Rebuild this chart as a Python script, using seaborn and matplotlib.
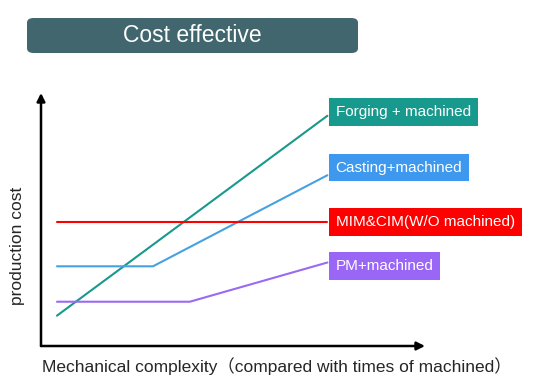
import matplotlib
matplotlib.use('Agg')
import matplotlib.pyplot as plt
from matplotlib.patches import FancyBboxPatch
import pandas as pd
import seaborn as sns

# production cost vs mechanical complexity (arbitrary units)
series = ['Forging + machined', 'Casting+machined', 'MIM&CIM(W/O machined)', 'PM+machined']
forging_x, forging_y = [0.5, 8.95], [1.2, 9.1]
casting_x, casting_y = [0.5, 3.5, 8.95], [3.15, 3.15, 6.75]
mim_x, mim_y = [0.5, 8.95], [4.9, 4.9]
pm_x, pm_y = [0.5, 4.65, 8.95], [1.75, 1.75, 3.3]

colors = ['#18998c', '#45a2e2', '#ff0000', '#9a6af2']
box_colors = ['#17998e', '#3d98ee', '#ff0000', '#9966f5']
label_offsets = [2.5, 5.5, 0, -2.5]  # points, label box vs line end

rows = []
for name, xs, ys in zip(series, [forging_x, casting_x, mim_x, pm_x],
                        [forging_y, casting_y, mim_y, pm_y]):
    for x, y in zip(xs, ys):
        rows.append({'series': name, 'complexity': x, 'cost': y})
df = pd.DataFrame(rows)

sns.set_style('white')
plt.rcParams['font.family'] = ['Liberation Sans', 'Noto Sans CJK SC', 'DejaVu Sans']

fig = plt.figure(figsize=(5.55, 3.90), dpi=100)
ax = fig.add_axes([41 / 555, 44 / 390, 384 / 555, 253 / 390])

sns.lineplot(data=df, x='complexity', y='cost', hue='series', hue_order=series,
             palette=colors, linewidth=1.5, legend=False, ax=ax)
ax.set_xlim(0, 12)
ax.set_ylim(0, 10)
for s in ax.spines.values():
    s.set_visible(False)
ax.set_xticks([])
ax.set_yticks([])
ax.set_xlabel('')
ax.set_ylabel('')

# axis arrows
ax.annotate('', xy=(1, 0), xytext=(0, 0), xycoords='axes fraction',
            arrowprops=dict(arrowstyle='-|>', color='black', lw=1.8,
                            mutation_scale=12, shrinkA=0, shrinkB=0))
ax.annotate('', xy=(0, 1), xytext=(0, 0), xycoords='axes fraction',
            arrowprops=dict(arrowstyle='-|>', color='black', lw=1.8,
                            mutation_scale=12, shrinkA=0, shrinkB=0))

# labels at line ends
for name, xs, ys, bc, off in zip(series, [forging_x, casting_x, mim_x, pm_x],
                                 [forging_y, casting_y, mim_y, pm_y],
                                 box_colors, label_offsets):
    ax.annotate(name, xy=(xs[-1], ys[-1]), xytext=(6, off), textcoords='offset points',
                ha='left', va='center', color='white', fontsize=11,
                bbox=dict(boxstyle='square,pad=0.45', fc=bc, ec='none'))

# title box
fig.patches.append(FancyBboxPatch((27 / 555, 1 - 53 / 390), 331 / 555, 35 / 390,
                                  boxstyle='round,pad=0,rounding_size=0.012',
                                  transform=fig.transFigure, fc='#41666e', ec='none'))
fig.text(192 / 555, 1 - 36 / 390, 'Cost effective', ha='center', va='center',
         color='white', fontsize=16.5)

fig.text(18 / 555, 1 - 246 / 390, 'production cost', rotation=90,
         ha='center', va='center', fontsize=12.5)
fig.text(42 / 555, 1 - 366 / 390, 'Mechanical complexity（compared with times of machined）',
         ha='left', va='center', fontsize=12.5)

fig.savefig('out.png', dpi=100)
